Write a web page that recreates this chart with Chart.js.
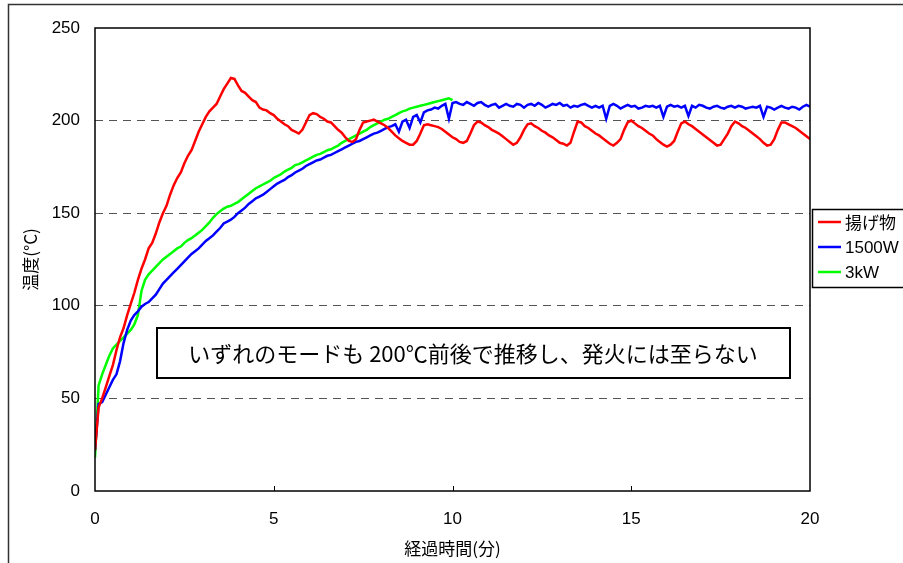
<!DOCTYPE html>
<html>
<head>
<meta charset="utf-8">
<script src="https://cdn.jsdelivr.net/npm/chart.js@4.4.1/dist/chart.umd.min.js"></script>
<style>
  html, body { margin: 0; padding: 0; background: #fff; }
  #wrap { width: 903px; height: 563px; position: relative; }
</style>
</head>
<body>
<div id="wrap"><canvas id="chart"></canvas></div>
<script>
// readings every 0.1 min from 0 to 20 min
var seriesNames = ["揚げ物", "1500W", "3kW"];
var seriesColors = ["#ff0000", "#0000ff", "#00ff00"];
var yTicks = [0, 50, 100, 150, 200, 250];
var xTicks = [0, 5, 10, 15, 20];
var note = "いずれのモードも 200℃前後で推移し、発火には至らない";

var friedTemp = [
  22, 45, 50, 56, 62, 68, 76, 83, 88, 95,
  101, 107, 114, 120, 125, 131, 134, 139, 145, 150,
  154, 160, 165, 169, 172, 177, 181, 184, 189, 194,
  198, 202, 205, 207, 209, 213, 217, 220, 223, 222.5,
  219, 216, 215, 213, 211, 210, 207, 206, 205.5, 204,
  203, 201, 199.5, 198, 197, 195, 194, 193, 195, 199,
  203, 204, 203.5, 202, 201, 199.5, 199, 197, 195, 193.5,
  191, 189, 188.5, 190, 195, 199, 199.5, 200, 200.5, 199.5,
  198.5, 197.5, 196, 194, 192, 190.5, 189, 188, 187, 187,
  189, 193, 197.5, 198, 197.5, 197, 196.5, 195.5, 194, 192.5,
  191, 190, 188.5, 188, 189, 193, 197.5, 199.5, 199, 197.5,
  196.5, 195, 194, 193, 191.5, 190, 188.5, 187, 188, 191,
  195, 198, 198.5, 197, 196, 194.5, 193.5, 192, 191, 189.5,
  188, 187.5, 186.5, 188, 194, 199.5, 199, 197, 196, 194.5,
  193, 192, 190.5, 189, 187.5, 186.5, 188, 190, 195, 199,
  200, 198.5, 197, 196, 194.5, 193, 192, 190, 188.5, 187,
  186, 187, 189, 194, 198.5, 199.5, 198, 197, 195.5, 194,
  192.5, 191, 189.5, 188, 186.5, 187, 190, 193, 197, 199.5,
  198.5, 197, 196, 194.5, 193, 191.5, 190, 188, 186.5, 187,
  190, 195, 199, 199, 198, 197, 196, 194.5, 193, 191.5,
  190
];

var w1500Temp = [
  22, 47, 48, 52, 56, 60, 63, 70, 80, 87,
  92, 95, 97, 99.5, 101, 102, 104, 106, 109, 112,
  114, 116, 118, 120, 122, 124, 126, 128, 129.5, 131,
  133, 135, 136.5, 138, 140, 142, 144.5, 145.5, 146.5, 148,
  150, 151.5, 153, 155, 156.5, 158, 159, 160, 161.5, 163,
  164.5, 166, 167, 168, 169.5, 170.5, 172, 173, 174, 175.5,
  176.5, 177.5, 178.5, 179, 180, 181, 181.5, 182.5, 183.5, 184.5,
  185.5, 186.5, 187.5, 188.5, 189, 190, 191, 192, 193, 193.5,
  194.5, 195.5, 196.5, 197, 198, 194, 199.5, 200.5, 196, 202,
  203, 199, 204.5, 205.5, 206, 207, 206.5, 208, 209, 201,
  209.5, 210, 209, 208.5, 210, 209, 208, 209.5, 210, 208.5,
  207.5, 208.5, 209, 207, 208, 209, 208, 207.5, 209, 208.5,
  207, 208.5, 209, 208, 209.5, 208.5, 207, 208, 209, 208.5,
  209.5, 208, 208.5, 207, 208, 207.5, 208.5, 209, 208, 207,
  208, 207, 208, 201, 208, 209, 208, 206.5, 207.5, 208.5,
  207.5, 208, 206.5, 207, 208, 207.5, 208, 207, 208, 202,
  207.5, 208.5, 207.5, 208, 207, 208, 202.5, 208, 207, 208.5,
  208, 207, 206.5, 207.5, 208, 207, 206.5, 207.5, 208, 207,
  208, 207.5, 206.5, 207, 207.5, 207, 208, 202, 207.5, 207,
  206, 207, 208, 207, 206.5, 207.5, 207, 206, 207.5, 208.5,
  207.5
];

// 3kW run stops at 10 min
var w3kTemp = [
  18, 57, 63, 68, 73, 77, 79, 81, 83, 85,
  87, 90, 95, 108, 114, 117, 119, 121, 123, 125,
  126.5, 128, 129.5, 131, 132, 134, 135.5, 136.5, 138, 139.5,
  141, 143, 145, 147.5, 149.5, 151, 152.5, 153.5, 154, 155,
  156, 157.5, 159, 160.5, 162, 163.5, 164.5, 165.5, 166.5, 167.5,
  169, 170, 171, 172.5, 173.5, 174.5, 176, 176.5, 177.5, 178.5,
  179.5, 180.5, 181.5, 182, 183, 184, 184.5, 185.5, 186.5, 188,
  189, 190, 191, 192, 193, 194, 195, 196.5, 197.5, 198.5,
  199.5, 200.5, 201, 202, 203, 204, 205, 205.5, 206.5, 207,
  207.5, 208, 208.5, 209, 209.5, 210, 210.5, 211, 211.5, 212,
  211
];

function toPoints(vals) {
  return vals.map(function (v, i) {
    return { x: i / 10, y: v };
  });
}

var jpFont = '"Noto Sans CJK JP", "Noto Sans", sans-serif';
var numFont = '"Liberation Sans", Arial, sans-serif';

const ctx = document.getElementById("chart");

var myChart = new Chart(ctx, {
  type: "line",
  data: {
    datasets: [
      { label: seriesNames[0], data: toPoints(friedTemp), borderColor: seriesColors[0] },
      { label: seriesNames[1], data: toPoints(w1500Temp), borderColor: seriesColors[1] },
      { label: seriesNames[2], data: toPoints(w3kTemp), borderColor: seriesColors[2] },
    ],
  },
  options: {
    responsive: true,
    maintainAspectRatio: false,
    animation: false,
    events: [],
    elements: {
      point: { radius: 0 },
      line: { borderWidth: 2.5, tension: 0 },
    },
    layout: {
      padding: { left: 8, right: 93, top: 28, bottom: 0 },
    },
    plugins: {
      legend: { display: false },
      tooltip: { enabled: false },
    },
    scales: {
      x: {
        type: "linear",
        min: 0,
        max: 20,
        afterBuildTicks: function (scale) {
          scale.ticks = xTicks.map(function (v) { return { value: v }; });
        },
        afterFit: function (scale) {
          scale.height = 72;
        },
        grid: { display: false, drawTicks: false },
        border: { display: false },
        ticks: {
          color: "#000",
          padding: 18,
          maxRotation: 0,
          font: { family: '"Liberation Sans Narrow", ' + numFont, size: 17 },
        },
        title: {
          display: true,
          text: "経過時間(分)",
          color: "#000",
          padding: { top: 0 },
          font: { family: jpFont, size: 17 },
        },
      },
      y: {
        min: 0,
        max: 250,
        afterBuildTicks: function (scale) {
          scale.ticks = yTicks.map(function (v) { return { value: v }; });
        },
        afterFit: function (scale) {
          scale.width = 87;
        },
        grid: {
          drawTicks: false,
          color: function (c) {
            var v = c.tick ? c.tick.value : 0;
            return v === 0 || v === 250 ? "rgba(0,0,0,0)" : "#555";
          },
          lineWidth: 1,
        },
        border: { display: false, dash: [8, 6] },
        ticks: {
          color: "#000",
          padding: 15,
          font: { family: numFont, size: 17 },
        },
        title: {
          display: true,
          text: "温度(°C)",
          color: "#000",
          padding: { top: 12, bottom: 0 },
          font: { family: jpFont, size: 17 },
        },
      },
    },
  },
  plugins: [
    {
      id: "frameAndNotes",
      afterDraw: function (chart) {
        const c = chart.ctx;
        const a = chart.chartArea;
        const xs = chart.scales.x;
        c.save();
        // outer frame (top and left edges visible)
        c.strokeStyle = "#333";
        c.lineWidth = 1.5;
        c.beginPath();
        c.moveTo(8.5, 563);
        c.lineTo(8.5, 4.5);
        c.lineTo(903, 4.5);
        c.stroke();

        // plot area border
        c.strokeStyle = "#000";
        c.lineWidth = 1.5;
        c.strokeRect(a.left, a.top, a.right - a.left, a.bottom - a.top);

        // inward x ticks
        c.lineWidth = 1;
        c.beginPath();
        [5, 10, 15].forEach(function (v) {
          var px = Math.round(xs.getPixelForValue(v)) + 0.5;
          c.moveTo(px, a.bottom);
          c.lineTo(px, a.bottom - 5);
        });
        c.stroke();

        // note box
        c.fillStyle = "#fff";
        c.fillRect(157, 328, 633, 50);
        c.strokeStyle = "#000";
        c.lineWidth = 2;
        c.strokeRect(157, 328, 633, 50);
        c.fillStyle = "#000";
        c.font = "22px " + jpFont;
        c.textAlign = "center";
        c.textBaseline = "middle";
        c.fillText(note, 473, 354);

        // legend box
        c.fillStyle = "#fff";
        c.fillRect(812, 209, 100, 78);
        c.strokeStyle = "#000";
        c.lineWidth = 1.5;
        c.strokeRect(812.5, 209.5, 100, 78);
        c.textAlign = "left";
        c.textBaseline = "middle";
        chart.data.datasets.forEach(function (ds, i) {
          var y = 222 + i * 25;
          c.strokeStyle = ds.borderColor;
          c.lineWidth = 2.5;
          c.beginPath();
          c.moveTo(818, y);
          c.lineTo(841, y);
          c.stroke();
          c.fillStyle = "#000";
          c.font = (i === 0 ? "17px " + jpFont : "17px " + numFont);
          c.fillText(ds.label, 845, y + 1);
        });
        c.restore();
      },
    },
  ],
});
</script>
</body>
</html>
